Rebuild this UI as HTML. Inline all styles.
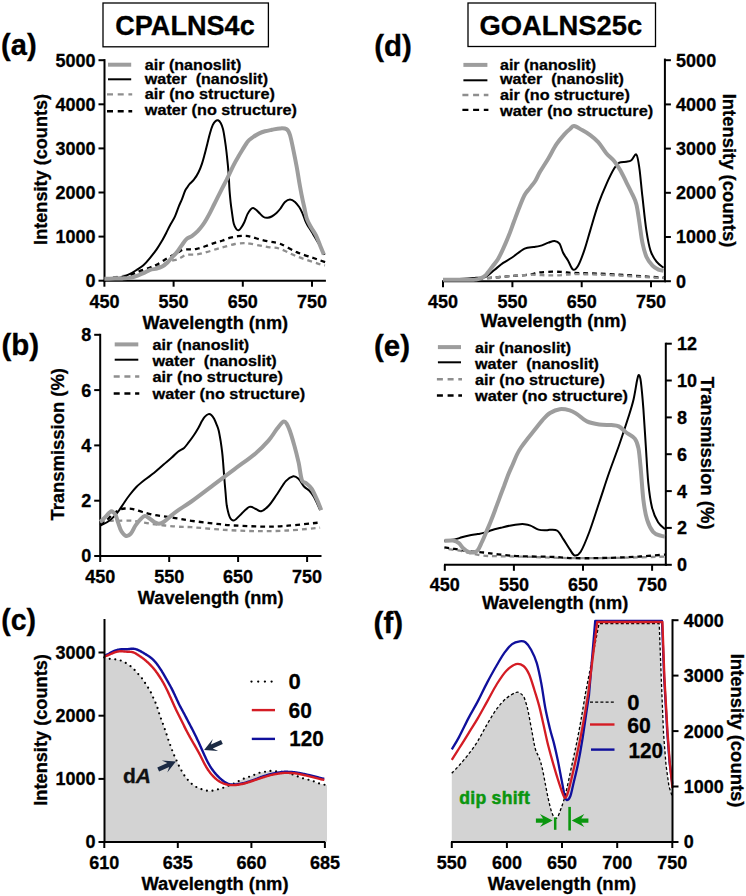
<!DOCTYPE html>
<html><head><meta charset="utf-8"><style>
html,body{margin:0;padding:0;background:#fff;}
svg{display:block;}
text{font-family:"Liberation Sans",sans-serif;}
</style></head><body>
<svg width="746" height="896" viewBox="0 0 746 896">
<rect width="746" height="896" fill="#fff"/>
<rect x="103" y="3" width="165.4" height="43.8" fill="none" stroke="#000" stroke-width="1.3"/>
<text x="185.0" y="34.5" font-family="Liberation Sans, sans-serif" font-weight="bold" font-size="27.0" fill="#000" stroke="#000" stroke-width="0.3" text-anchor="middle" textLength="139.5" lengthAdjust="spacingAndGlyphs" >CPALNS4c</text>
<rect x="468" y="3" width="187.5" height="43.5" fill="none" stroke="#000" stroke-width="1.3"/>
<text x="560.9" y="34.5" font-family="Liberation Sans, sans-serif" font-weight="bold" font-size="27.0" fill="#000" stroke="#000" stroke-width="0.3" text-anchor="middle" textLength="162.7" lengthAdjust="spacingAndGlyphs" >GOALNS25c</text>
<text x="1.0" y="55.3" font-family="Liberation Sans, sans-serif" font-weight="bold" font-size="29.0" fill="#000" stroke="#000" stroke-width="0.3" textLength="35.6" lengthAdjust="spacingAndGlyphs" >(a)</text>
<text x="1.4" y="354.5" font-family="Liberation Sans, sans-serif" font-weight="bold" font-size="29.0" fill="#000" stroke="#000" stroke-width="0.3" textLength="37.7" lengthAdjust="spacingAndGlyphs" >(b)</text>
<text x="1.3" y="629.6" font-family="Liberation Sans, sans-serif" font-weight="bold" font-size="29.0" fill="#000" stroke="#000" stroke-width="0.3" textLength="34.8" lengthAdjust="spacingAndGlyphs" >(c)</text>
<text x="374.3" y="55.8" font-family="Liberation Sans, sans-serif" font-weight="bold" font-size="29.0" fill="#000" stroke="#000" stroke-width="0.3" textLength="37.6" lengthAdjust="spacingAndGlyphs" >(d)</text>
<text x="374.0" y="355.5" font-family="Liberation Sans, sans-serif" font-weight="bold" font-size="29.0" fill="#000" stroke="#000" stroke-width="0.3" textLength="36.0" lengthAdjust="spacingAndGlyphs" >(e)</text>
<text x="373.6" y="633.0" font-family="Liberation Sans, sans-serif" font-weight="bold" font-size="29.5" fill="#000" stroke="#000" stroke-width="0.3" textLength="29.5" lengthAdjust="spacingAndGlyphs" >(f)</text>
<line x1="104.5" y1="281.7" x2="104.5" y2="59.1" stroke="#000" stroke-width="2.0" />
<line x1="103.5" y1="280.7" x2="325.9" y2="280.7" stroke="#000" stroke-width="2.0" />
<line x1="98.5" y1="280.7" x2="104.5" y2="280.7" stroke="#000" stroke-width="2.0" />
<text x="95.5" y="287.1" font-family="Liberation Sans, sans-serif" font-weight="bold" font-size="18.0" fill="#000" stroke="#000" stroke-width="0.3" text-anchor="end" >0</text>
<line x1="98.5" y1="236.6" x2="104.5" y2="236.6" stroke="#000" stroke-width="2.0" />
<text x="95.5" y="243.0" font-family="Liberation Sans, sans-serif" font-weight="bold" font-size="18.0" fill="#000" stroke="#000" stroke-width="0.3" text-anchor="end" >1000</text>
<line x1="98.5" y1="192.5" x2="104.5" y2="192.5" stroke="#000" stroke-width="2.0" />
<text x="95.5" y="198.9" font-family="Liberation Sans, sans-serif" font-weight="bold" font-size="18.0" fill="#000" stroke="#000" stroke-width="0.3" text-anchor="end" >2000</text>
<line x1="98.5" y1="148.4" x2="104.5" y2="148.4" stroke="#000" stroke-width="2.0" />
<text x="95.5" y="154.8" font-family="Liberation Sans, sans-serif" font-weight="bold" font-size="18.0" fill="#000" stroke="#000" stroke-width="0.3" text-anchor="end" >3000</text>
<line x1="98.5" y1="104.3" x2="104.5" y2="104.3" stroke="#000" stroke-width="2.0" />
<text x="95.5" y="110.7" font-family="Liberation Sans, sans-serif" font-weight="bold" font-size="18.0" fill="#000" stroke="#000" stroke-width="0.3" text-anchor="end" >4000</text>
<line x1="98.5" y1="60.2" x2="104.5" y2="60.2" stroke="#000" stroke-width="2.0" />
<text x="95.5" y="66.6" font-family="Liberation Sans, sans-serif" font-weight="bold" font-size="18.0" fill="#000" stroke="#000" stroke-width="0.3" text-anchor="end" >5000</text>
<line x1="104.4" y1="280.7" x2="104.4" y2="286.7" stroke="#000" stroke-width="2.0" />
<text x="104.4" y="307.5" font-family="Liberation Sans, sans-serif" font-weight="bold" font-size="18.0" fill="#000" stroke="#000" stroke-width="0.3" text-anchor="middle" >450</text>
<line x1="173.6" y1="280.7" x2="173.6" y2="286.7" stroke="#000" stroke-width="2.0" />
<text x="173.6" y="307.5" font-family="Liberation Sans, sans-serif" font-weight="bold" font-size="18.0" fill="#000" stroke="#000" stroke-width="0.3" text-anchor="middle" >550</text>
<line x1="242.8" y1="280.7" x2="242.8" y2="286.7" stroke="#000" stroke-width="2.0" />
<text x="242.8" y="307.5" font-family="Liberation Sans, sans-serif" font-weight="bold" font-size="18.0" fill="#000" stroke="#000" stroke-width="0.3" text-anchor="middle" >650</text>
<line x1="312.0" y1="280.7" x2="312.0" y2="286.7" stroke="#000" stroke-width="2.0" />
<text x="312.0" y="307.5" font-family="Liberation Sans, sans-serif" font-weight="bold" font-size="18.0" fill="#000" stroke="#000" stroke-width="0.3" text-anchor="middle" >750</text>
<text x="215.3" y="329.0" font-family="Liberation Sans, sans-serif" font-weight="bold" font-size="18.0" fill="#000" stroke="#000" stroke-width="0.3" text-anchor="middle" textLength="145.7" lengthAdjust="spacingAndGlyphs" >Wavelength (nm)</text>
<text x="47.2" y="169.4" font-family="Liberation Sans, sans-serif" font-weight="bold" font-size="18.0" fill="#000" stroke="#000" stroke-width="0.3" text-anchor="middle" textLength="151.0" lengthAdjust="spacingAndGlyphs" transform="rotate(-90 47.2 169.4)" >Intensity (counts)</text>
<line x1="108.0" y1="64.7" x2="131.2" y2="64.7" stroke="#9d9d9d" stroke-width="4.0" />
<line x1="108.0" y1="79.3" x2="131.2" y2="79.3" stroke="#000" stroke-width="2.0" />
<line x1="107.0" y1="94.4" x2="132.2" y2="94.4" stroke="#8e8e8e" stroke-width="2.4" stroke-dasharray="6,4.7"/>
<line x1="107.0" y1="111.2" x2="132.2" y2="111.2" stroke="#000" stroke-width="2.4" stroke-dasharray="6,4.7"/>
<text x="144.8" y="69.8" font-family="Liberation Sans, sans-serif" font-weight="bold" font-size="15.5" fill="#000" stroke="#000" stroke-width="0.3" textLength="96.5" lengthAdjust="spacingAndGlyphs" >air (nanoslit)</text>
<text x="144.8" y="84.3" font-family="Liberation Sans, sans-serif" font-weight="bold" font-size="15.5" fill="#000" stroke="#000" stroke-width="0.3" textLength="123.2" lengthAdjust="spacingAndGlyphs" >water&#160; (nanoslit)</text>
<text x="144.8" y="99.3" font-family="Liberation Sans, sans-serif" font-weight="bold" font-size="15.5" fill="#000" stroke="#000" stroke-width="0.3" textLength="130.1" lengthAdjust="spacingAndGlyphs" >air (no structure)</text>
<text x="144.8" y="114.8" font-family="Liberation Sans, sans-serif" font-weight="bold" font-size="15.5" fill="#000" stroke="#000" stroke-width="0.3" textLength="152.1" lengthAdjust="spacingAndGlyphs" >water (no structure)</text>
<path d="M104.4,278.8 C110.4,277.8 130.9,275.0 140.2,272.8 C149.5,270.6 155.3,267.4 160.3,265.5 C165.3,263.6 167.3,262.2 170.1,261.2 C172.9,260.2 175.1,260.1 176.9,259.5 C178.7,258.9 179.4,258.3 181.0,257.5 C182.6,256.7 184.0,255.3 186.7,254.8 C189.3,254.3 193.6,254.9 196.9,254.5 C200.2,254.1 203.1,253.1 206.3,252.2 C209.6,251.3 213.3,250.0 216.4,249.1 C219.5,248.2 221.9,247.5 225.0,246.7 C228.1,245.8 231.9,244.6 235.0,244.0 C238.1,243.4 241.3,243.2 243.8,243.1 C246.3,243.0 247.2,243.3 250.0,243.7 C252.8,244.1 257.0,245.0 260.3,245.6 C263.6,246.2 266.7,246.8 270.0,247.3 C273.3,247.8 275.6,247.3 280.0,248.8 C284.4,250.3 290.3,253.8 296.7,256.3 C303.1,258.8 313.8,262.3 318.5,263.8 C323.2,265.3 323.9,265.2 325.0,265.5" fill="none" stroke="#8e8e8e" stroke-width="2.3" stroke-linejoin="round" stroke-dasharray="4.8,4"/>
<path d="M104.4,278.4 C107.7,278.1 118.6,277.9 124.1,276.8 C129.6,275.7 133.1,273.4 137.4,271.9 C141.7,270.3 146.5,268.8 150.0,267.5 C153.5,266.2 155.4,265.4 158.2,263.9 C161.0,262.4 164.4,260.0 166.9,258.5 C169.4,257.0 171.2,256.0 173.0,255.0 C174.8,254.0 176.4,253.4 178.0,252.5 C179.6,251.6 181.1,250.3 182.8,249.8 C184.5,249.3 186.3,249.4 188.0,249.3 C189.7,249.2 191.3,249.6 193.0,249.5 C194.7,249.4 196.3,248.9 198.0,248.5 C199.7,248.1 201.5,247.6 203.1,247.1 C204.7,246.6 206.2,245.9 207.8,245.3 C209.4,244.7 210.9,244.2 212.5,243.6 C214.1,243.0 215.9,242.5 217.6,242.0 C219.3,241.5 220.6,241.2 222.7,240.5 C224.8,239.8 227.8,238.4 230.4,237.7 C233.0,237.0 235.4,236.5 238.0,236.2 C240.6,235.9 243.6,235.8 245.9,235.9 C248.2,236.0 249.6,236.4 252.0,237.0 C254.4,237.6 257.3,238.8 260.3,239.6 C263.3,240.4 266.7,241.0 270.0,241.7 C273.3,242.4 275.6,242.0 280.0,243.7 C284.4,245.4 291.1,249.7 296.7,252.1 C302.3,254.5 308.6,256.3 313.4,258.0 C318.1,259.7 323.2,261.4 325.2,262.1" fill="none" stroke="#000" stroke-width="2.3" stroke-linejoin="round" stroke-dasharray="4.8,4"/>
<path d="M104.4,278.4 C106.2,278.3 112.0,278.2 115.0,278.0 C118.0,277.8 119.6,277.9 122.1,277.2 C124.6,276.5 127.6,275.1 130.0,273.9 C132.4,272.7 134.5,271.3 136.7,269.9 C138.9,268.4 141.2,267.2 143.4,265.2 C145.6,263.2 147.9,260.5 150.1,257.8 C152.3,255.1 154.8,252.0 156.8,249.1 C158.8,246.2 160.6,243.1 162.2,240.4 C163.8,237.7 164.9,235.6 166.2,233.0 C167.5,230.4 168.7,227.8 170.2,225.0 C171.7,222.2 173.6,219.5 175.0,216.3 C176.4,213.2 177.7,209.0 178.9,206.1 C180.1,203.2 181.0,201.6 182.0,199.1 C183.0,196.6 184.1,193.0 185.0,191.0 C185.9,189.0 186.8,188.2 187.5,187.0 C188.2,185.8 188.4,185.3 189.5,184.1 C190.6,182.9 192.4,181.5 193.9,179.6 C195.4,177.7 197.1,175.2 198.4,172.5 C199.8,169.8 201.0,166.6 202.0,163.6 C203.0,160.6 203.7,157.9 204.6,154.6 C205.5,151.3 206.4,147.5 207.3,143.9 C208.2,140.3 209.1,136.3 210.0,133.2 C210.9,130.1 211.8,127.2 212.7,125.2 C213.6,123.2 214.5,122.0 215.4,121.2 C216.3,120.4 217.1,120.0 218.0,120.3 C218.9,120.6 219.9,121.6 220.7,123.0 C221.5,124.4 222.2,126.2 222.9,128.8 C223.6,131.4 224.1,134.7 224.7,138.6 C225.3,142.5 226.0,147.5 226.5,152.0 C227.0,156.5 227.5,161.2 227.9,165.4 C228.3,169.6 228.5,172.9 228.8,177.0 C229.1,181.1 229.2,185.8 229.5,190.0 C229.8,194.2 230.2,198.1 230.6,202.1 C231.0,206.1 231.7,210.5 232.2,214.1 C232.7,217.7 233.1,221.3 233.8,223.8 C234.5,226.3 235.5,227.9 236.3,229.0 C237.1,230.1 237.9,230.4 238.7,230.2 C239.5,230.0 240.2,229.1 241.1,227.8 C242.0,226.5 243.2,224.5 244.3,222.2 C245.4,219.9 246.4,216.2 247.5,214.1 C248.6,211.9 249.8,210.3 250.7,209.3 C251.6,208.3 252.2,208.0 253.2,208.1 C254.1,208.2 255.3,209.2 256.4,210.1 C257.5,211.0 258.4,212.2 259.6,213.3 C260.8,214.5 262.3,216.2 263.6,217.0 C264.9,217.8 266.2,217.9 267.6,217.8 C269.0,217.7 270.2,217.3 271.7,216.5 C273.2,215.7 275.0,214.2 276.5,212.9 C278.0,211.6 279.1,210.3 280.5,208.5 C281.9,206.7 283.4,203.4 285.0,201.9 C286.6,200.4 288.3,199.4 290.0,199.4 C291.7,199.4 293.5,200.6 295.0,201.9 C296.5,203.2 297.9,205.1 299.2,207.0 C300.5,208.9 301.6,211.4 302.6,213.6 C303.6,215.8 304.3,218.3 305.1,220.3 C305.9,222.3 306.5,223.5 307.6,225.4 C308.7,227.3 310.3,229.5 311.8,232.0 C313.3,234.5 315.4,237.9 316.8,240.4 C318.2,242.9 319.2,244.6 320.5,247.0 C321.8,249.4 323.9,253.4 324.6,254.7" fill="none" stroke="#000" stroke-width="2.0" stroke-linejoin="round" />
<path d="M104.4,278.8 C106.2,278.8 112.1,278.7 115.0,278.6 C117.9,278.5 119.5,278.5 122.0,278.4 C124.5,278.3 127.5,278.3 130.0,277.9 C132.4,277.5 134.5,276.7 136.7,275.9 C138.9,275.1 141.2,274.3 143.4,273.3 C145.6,272.3 147.9,270.7 150.1,269.9 C152.3,269.1 154.8,269.2 156.8,268.6 C158.8,268.1 160.4,267.6 162.2,266.6 C164.0,265.6 165.7,264.2 167.5,262.5 C169.3,260.8 171.3,258.2 172.9,256.5 C174.5,254.8 175.4,254.1 176.8,252.3 C178.2,250.5 179.7,248.1 181.3,245.9 C183.0,243.7 184.9,240.6 186.7,238.9 C188.5,237.2 190.4,237.1 192.2,235.8 C194.0,234.5 196.0,232.8 197.7,231.1 C199.4,229.4 200.9,227.5 202.3,225.6 C203.7,223.7 205.0,221.6 206.3,219.4 C207.6,217.2 208.9,214.8 210.2,212.3 C211.5,209.8 212.8,207.1 214.1,204.5 C215.4,201.9 216.7,199.3 218.0,196.7 C219.3,194.1 220.5,191.7 221.9,188.9 C223.3,186.1 224.8,183.4 226.7,179.7 C228.5,175.9 231.2,170.1 233.0,166.4 C234.8,162.8 236.1,160.5 237.7,157.8 C239.2,155.1 240.6,152.7 242.3,150.0 C244.0,147.3 246.1,143.5 247.8,141.4 C249.5,139.3 250.7,138.8 252.5,137.5 C254.3,136.2 256.7,134.6 258.8,133.6 C260.9,132.6 262.8,131.9 265.0,131.3 C267.2,130.7 269.5,130.3 272.0,129.8 C274.5,129.3 277.6,128.5 280.0,128.4 C282.4,128.3 285.0,128.1 286.7,129.2 C288.4,130.3 288.9,131.5 290.0,135.0 C291.1,138.5 292.3,144.8 293.4,150.1 C294.5,155.4 295.7,161.5 296.7,166.8 C297.7,172.1 298.4,177.2 299.2,181.9 C300.0,186.7 300.9,191.1 301.7,195.3 C302.5,199.5 303.3,203.1 304.2,207.0 C305.1,210.9 305.7,215.4 306.8,218.7 C307.9,222.0 309.4,224.2 310.9,227.0 C312.4,229.8 314.5,232.3 316.0,235.4 C317.5,238.5 318.8,242.2 320.1,245.4 C321.4,248.6 323.2,253.1 323.8,254.6" fill="none" stroke="#9d9d9d" stroke-width="4.0" stroke-linejoin="round" />
<line x1="100.2" y1="557.0" x2="100.2" y2="333.8" stroke="#000" stroke-width="2.0" />
<line x1="99.2" y1="556.0" x2="321.5" y2="556.0" stroke="#000" stroke-width="2.0" />
<line x1="94.2" y1="556.0" x2="100.2" y2="556.0" stroke="#000" stroke-width="2.0" />
<text x="91.2" y="562.4" font-family="Liberation Sans, sans-serif" font-weight="bold" font-size="18.0" fill="#000" stroke="#000" stroke-width="0.3" text-anchor="end" >0</text>
<line x1="94.2" y1="500.7" x2="100.2" y2="500.7" stroke="#000" stroke-width="2.0" />
<text x="91.2" y="507.1" font-family="Liberation Sans, sans-serif" font-weight="bold" font-size="18.0" fill="#000" stroke="#000" stroke-width="0.3" text-anchor="end" >2</text>
<line x1="94.2" y1="445.4" x2="100.2" y2="445.4" stroke="#000" stroke-width="2.0" />
<text x="91.2" y="451.8" font-family="Liberation Sans, sans-serif" font-weight="bold" font-size="18.0" fill="#000" stroke="#000" stroke-width="0.3" text-anchor="end" >4</text>
<line x1="94.2" y1="390.1" x2="100.2" y2="390.1" stroke="#000" stroke-width="2.0" />
<text x="91.2" y="396.5" font-family="Liberation Sans, sans-serif" font-weight="bold" font-size="18.0" fill="#000" stroke="#000" stroke-width="0.3" text-anchor="end" >6</text>
<line x1="94.2" y1="334.8" x2="100.2" y2="334.8" stroke="#000" stroke-width="2.0" />
<text x="91.2" y="341.2" font-family="Liberation Sans, sans-serif" font-weight="bold" font-size="18.0" fill="#000" stroke="#000" stroke-width="0.3" text-anchor="end" >8</text>
<line x1="100.2" y1="556.0" x2="100.2" y2="562.0" stroke="#000" stroke-width="2.0" />
<text x="100.2" y="582.8" font-family="Liberation Sans, sans-serif" font-weight="bold" font-size="18.0" fill="#000" stroke="#000" stroke-width="0.3" text-anchor="middle" >450</text>
<line x1="169.2" y1="556.0" x2="169.2" y2="562.0" stroke="#000" stroke-width="2.0" />
<text x="169.2" y="582.8" font-family="Liberation Sans, sans-serif" font-weight="bold" font-size="18.0" fill="#000" stroke="#000" stroke-width="0.3" text-anchor="middle" >550</text>
<line x1="238.1" y1="556.0" x2="238.1" y2="562.0" stroke="#000" stroke-width="2.0" />
<text x="238.1" y="582.8" font-family="Liberation Sans, sans-serif" font-weight="bold" font-size="18.0" fill="#000" stroke="#000" stroke-width="0.3" text-anchor="middle" >650</text>
<line x1="307.1" y1="556.0" x2="307.1" y2="562.0" stroke="#000" stroke-width="2.0" />
<text x="307.1" y="582.8" font-family="Liberation Sans, sans-serif" font-weight="bold" font-size="18.0" fill="#000" stroke="#000" stroke-width="0.3" text-anchor="middle" >750</text>
<text x="210.7" y="604.0" font-family="Liberation Sans, sans-serif" font-weight="bold" font-size="18.0" fill="#000" stroke="#000" stroke-width="0.3" text-anchor="middle" textLength="145.7" lengthAdjust="spacingAndGlyphs" >Wavelength (nm)</text>
<text x="64.5" y="444.3" font-family="Liberation Sans, sans-serif" font-weight="bold" font-size="18.0" fill="#000" stroke="#000" stroke-width="0.3" text-anchor="middle" textLength="152.5" lengthAdjust="spacingAndGlyphs" transform="rotate(-90 64.5 444.3)" >Transmission (%)</text>
<line x1="114.7" y1="344.4" x2="138.3" y2="344.4" stroke="#9d9d9d" stroke-width="4.0" />
<line x1="114.7" y1="359.7" x2="138.3" y2="359.7" stroke="#000" stroke-width="2.0" />
<line x1="113.7" y1="376.5" x2="139.3" y2="376.5" stroke="#8e8e8e" stroke-width="2.4" stroke-dasharray="6,4.7"/>
<line x1="113.7" y1="393.5" x2="139.3" y2="393.5" stroke="#000" stroke-width="2.4" stroke-dasharray="6,4.7"/>
<text x="152.5" y="350.2" font-family="Liberation Sans, sans-serif" font-weight="bold" font-size="15.5" fill="#000" stroke="#000" stroke-width="0.3" textLength="96.7" lengthAdjust="spacingAndGlyphs" >air (nanoslit)</text>
<text x="152.5" y="365.8" font-family="Liberation Sans, sans-serif" font-weight="bold" font-size="15.5" fill="#000" stroke="#000" stroke-width="0.3" textLength="124.2" lengthAdjust="spacingAndGlyphs" >water&#160; (nanoslit)</text>
<text x="152.5" y="381.9" font-family="Liberation Sans, sans-serif" font-weight="bold" font-size="15.5" fill="#000" stroke="#000" stroke-width="0.3" textLength="130.5" lengthAdjust="spacingAndGlyphs" >air (no structure)</text>
<text x="152.5" y="398.6" font-family="Liberation Sans, sans-serif" font-weight="bold" font-size="15.5" fill="#000" stroke="#000" stroke-width="0.3" textLength="152.8" lengthAdjust="spacingAndGlyphs" >water (no structure)</text>
<path d="M100.2,522.0 C102.0,521.8 108.3,521.0 111.3,520.8 C114.2,520.6 114.3,520.8 117.9,520.8 C121.5,520.8 127.6,520.3 133.1,520.8 C138.6,521.3 145.4,522.9 150.7,523.7 C156.0,524.5 160.4,525.0 165.0,525.5 C169.6,526.0 173.6,526.4 178.0,526.7 C182.4,527.0 183.8,526.7 191.4,527.2 C199.0,527.7 212.9,529.1 223.6,529.8 C234.3,530.4 245.1,531.0 255.8,531.1 C266.5,531.2 277.3,531.1 288.0,530.5 C298.7,529.9 314.8,528.2 320.1,527.7" fill="none" stroke="#8e8e8e" stroke-width="2.3" stroke-linejoin="round" stroke-dasharray="4.8,4"/>
<path d="M100.2,525.0 C101.5,524.0 106.0,520.8 108.0,519.0 C110.0,517.2 111.0,515.2 112.5,514.0 C114.0,512.8 115.4,512.3 116.7,511.5 C118.0,510.7 119.1,509.8 120.5,509.3 C121.9,508.8 122.8,508.5 124.9,508.5 C127.0,508.5 130.2,508.5 133.1,509.1 C136.0,509.7 139.0,511.0 142.5,512.0 C146.0,513.0 150.3,514.2 154.2,515.0 C158.1,515.8 161.9,516.1 165.9,516.7 C169.9,517.3 173.8,517.8 178.0,518.5 C182.2,519.2 185.6,520.0 191.4,520.8 C197.2,521.6 205.8,522.6 212.9,523.4 C220.1,524.2 225.4,525.0 234.3,525.5 C243.2,526.0 257.6,526.6 266.5,526.6 C275.4,526.6 279.1,526.4 288.0,525.7 C296.9,525.0 314.8,523.0 320.1,522.5" fill="none" stroke="#000" stroke-width="2.3" stroke-linejoin="round" stroke-dasharray="4.8,4"/>
<path d="M100.3,525.5 C101.5,524.9 105.1,523.6 107.4,522.0 C109.8,520.4 112.5,518.1 114.4,516.1 C116.4,514.1 117.5,512.5 119.1,510.3 C120.7,508.1 122.0,505.8 123.8,503.2 C125.5,500.6 127.5,497.7 129.6,495.0 C131.7,492.3 134.1,489.3 136.6,486.8 C139.1,484.3 141.9,482.1 144.8,479.8 C147.7,477.5 151.1,475.3 154.2,472.8 C157.3,470.3 160.7,467.1 163.6,464.6 C166.5,462.1 169.4,459.8 171.8,457.6 C174.2,455.5 175.9,453.3 178.0,451.7 C180.1,450.1 182.3,449.5 184.1,447.9 C185.9,446.3 187.2,444.2 188.8,442.2 C190.4,440.2 191.9,438.0 193.5,435.7 C195.1,433.4 196.8,430.6 198.2,428.2 C199.6,425.8 200.8,423.0 201.9,421.1 C203.0,419.2 203.6,418.1 204.7,416.9 C205.8,415.7 207.4,414.4 208.5,414.1 C209.6,413.8 210.4,414.2 211.3,415.0 C212.2,415.8 213.2,417.1 214.1,418.8 C215.0,420.5 216.1,423.3 216.9,425.3 C217.7,427.3 218.2,428.3 218.8,431.0 C219.4,433.7 220.1,437.9 220.7,441.3 C221.2,444.7 221.7,448.3 222.1,451.6 C222.5,454.9 222.7,457.2 223.0,461.0 C223.3,464.8 223.6,468.9 224.0,474.1 C224.4,479.3 225.0,486.7 225.5,492.0 C226.0,497.3 226.1,501.5 226.8,505.8 C227.6,510.1 228.8,515.2 230.0,517.6 C231.2,520.0 232.5,520.9 234.3,520.4 C236.1,519.9 238.3,516.6 240.8,514.4 C243.3,512.1 246.9,507.8 249.4,506.9 C251.9,506.0 253.8,508.3 255.8,509.0 C257.8,509.7 259.1,511.7 261.2,511.2 C263.3,510.7 266.0,508.7 268.7,505.8 C271.4,502.9 274.3,498.1 277.2,494.0 C280.1,489.9 283.1,484.1 285.8,481.1 C288.5,478.1 291.2,476.6 293.3,476.2 C295.4,475.8 296.9,477.3 298.7,479.0 C300.5,480.7 302.2,484.5 304.0,486.5 C305.8,488.5 307.7,489.1 309.4,490.8 C311.1,492.6 312.2,493.8 314.0,497.0 C315.8,500.2 319.1,507.8 320.1,510.0" fill="none" stroke="#000" stroke-width="2.0" stroke-linejoin="round" />
<path d="M100.3,522.0 C101.3,521.0 104.7,517.7 106.2,516.1 C107.7,514.5 108.5,513.3 109.5,512.5 C110.5,511.7 111.1,511.0 112.1,511.4 C113.1,511.8 114.6,513.2 115.6,515.0 C116.6,516.8 116.9,519.3 117.9,522.0 C118.9,524.7 120.0,529.0 121.4,531.3 C122.8,533.6 124.5,535.6 126.1,536.0 C127.7,536.4 129.2,535.5 130.8,533.7 C132.4,532.0 133.9,527.9 135.5,525.5 C137.1,523.1 138.6,521.2 140.2,519.6 C141.8,518.0 143.2,516.3 144.8,516.1 C146.4,515.9 147.9,517.5 149.5,518.5 C151.1,519.5 152.6,521.1 154.2,522.0 C155.8,522.9 157.3,523.7 158.9,523.7 C160.5,523.7 161.7,523.3 163.6,522.0 C165.5,520.7 168.2,518.1 170.6,516.1 C173.0,514.1 174.5,512.7 178.0,510.3 C181.5,507.9 185.6,505.6 191.4,501.5 C197.2,497.4 205.8,490.8 212.9,485.4 C220.1,480.0 227.2,474.7 234.3,469.3 C241.5,463.9 250.1,458.0 255.8,453.2 C261.5,448.4 265.1,444.5 268.7,440.4 C272.3,436.3 274.6,431.8 277.2,428.6 C279.8,425.5 282.0,421.5 284.0,421.5 C286.0,421.5 287.3,424.6 289.0,428.6 C290.7,432.6 292.8,440.0 294.4,445.7 C296.0,451.4 297.4,457.2 298.7,462.9 C299.9,468.6 300.6,476.7 301.9,480.1 C303.1,483.5 304.6,481.9 306.2,483.3 C307.8,484.7 309.8,485.9 311.6,488.6 C313.4,491.3 315.3,495.8 316.9,499.4 C318.5,503.0 320.5,508.3 321.2,510.1" fill="none" stroke="#9d9d9d" stroke-width="4.0" stroke-linejoin="round" />
<path d="M104.3,657.4 C105.2,657.6 107.7,658.5 109.4,658.8 C111.1,659.1 112.9,659.0 114.7,659.2 C116.5,659.5 118.3,659.7 120.1,660.3 C121.9,660.9 123.5,661.6 125.5,662.8 C127.5,664.0 130.4,666.0 132.2,667.5 C134.0,669.0 134.8,670.2 136.2,671.8 C137.6,673.4 139.6,675.3 140.9,676.9 C142.2,678.5 143.1,679.9 144.2,681.6 C145.3,683.3 146.6,685.3 147.6,686.9 C148.6,688.5 149.4,689.5 150.3,691.2 C151.2,692.9 152.0,695.0 152.9,697.0 C153.8,699.0 154.8,701.0 155.6,703.0 C156.4,705.0 157.2,707.0 157.9,709.0 C158.6,711.0 159.0,713.0 159.7,715.0 C160.4,717.0 161.1,719.0 161.9,721.1 C162.7,723.2 163.6,725.7 164.3,727.8 C165.1,729.9 165.7,731.8 166.4,733.8 C167.1,735.8 167.7,737.9 168.4,740.0 C169.1,742.1 169.9,744.1 170.7,746.2 C171.5,748.3 172.2,750.5 173.0,752.6 C173.8,754.7 174.7,756.4 175.7,758.6 C176.7,760.8 178.0,764.0 179.0,766.0 C180.0,768.0 180.6,769.1 181.6,770.8 C182.6,772.5 183.6,774.4 184.8,776.1 C186.1,777.9 187.6,779.7 189.1,781.3 C190.6,782.9 192.2,784.4 193.9,785.6 C195.6,786.8 197.4,787.5 199.3,788.3 C201.2,789.1 203.4,790.0 205.5,790.4 C207.6,790.8 209.7,791.0 211.8,790.8 C213.9,790.6 216.1,789.8 218.1,789.3 C220.1,788.8 221.9,788.2 224.0,787.5 C226.1,786.8 228.3,785.8 230.4,784.9 C232.5,784.0 234.4,783.2 236.3,782.3 C238.2,781.4 240.1,780.4 242.0,779.5 C243.9,778.6 245.9,777.9 247.8,777.2 C249.7,776.5 251.4,776.0 253.2,775.3 C255.0,774.6 256.8,773.6 258.6,773.0 C260.5,772.4 262.5,772.2 264.3,771.9 C266.1,771.5 267.4,771.0 269.3,770.9 C271.2,770.8 273.5,771.1 275.5,771.3 C277.5,771.5 279.4,771.7 281.4,771.9 C283.4,772.1 285.5,772.2 287.5,772.7 C289.5,773.2 291.4,774.1 293.4,774.8 C295.4,775.5 297.3,776.3 299.3,777.0 C301.3,777.7 303.4,778.5 305.5,779.1 C307.6,779.7 309.7,779.9 311.7,780.5 C313.7,781.1 315.3,782.2 317.3,782.9 C319.3,783.6 321.9,784.1 323.5,784.5 C325.1,784.9 326.4,785.2 327.0,785.3 L327,841.8 L104.5,841.8 Z" fill="#d3d3d3" stroke="none"/>
<path d="M104.3,657.4 C105.2,657.6 107.7,658.5 109.4,658.8 C111.1,659.1 112.9,659.0 114.7,659.2 C116.5,659.5 118.3,659.7 120.1,660.3 C121.9,660.9 123.5,661.6 125.5,662.8 C127.5,664.0 130.4,666.0 132.2,667.5 C134.0,669.0 134.8,670.2 136.2,671.8 C137.6,673.4 139.6,675.3 140.9,676.9 C142.2,678.5 143.1,679.9 144.2,681.6 C145.3,683.3 146.6,685.3 147.6,686.9 C148.6,688.5 149.4,689.5 150.3,691.2 C151.2,692.9 152.0,695.0 152.9,697.0 C153.8,699.0 154.8,701.0 155.6,703.0 C156.4,705.0 157.2,707.0 157.9,709.0 C158.6,711.0 159.0,713.0 159.7,715.0 C160.4,717.0 161.1,719.0 161.9,721.1 C162.7,723.2 163.6,725.7 164.3,727.8 C165.1,729.9 165.7,731.8 166.4,733.8 C167.1,735.8 167.7,737.9 168.4,740.0 C169.1,742.1 169.9,744.1 170.7,746.2 C171.5,748.3 172.2,750.5 173.0,752.6 C173.8,754.7 174.7,756.4 175.7,758.6 C176.7,760.8 178.0,764.0 179.0,766.0 C180.0,768.0 180.6,769.1 181.6,770.8 C182.6,772.5 183.6,774.4 184.8,776.1 C186.1,777.9 187.6,779.7 189.1,781.3 C190.6,782.9 192.2,784.4 193.9,785.6 C195.6,786.8 197.4,787.5 199.3,788.3 C201.2,789.1 203.4,790.0 205.5,790.4 C207.6,790.8 209.7,791.0 211.8,790.8 C213.9,790.6 216.1,789.8 218.1,789.3 C220.1,788.8 221.9,788.2 224.0,787.5 C226.1,786.8 228.3,785.8 230.4,784.9 C232.5,784.0 234.4,783.2 236.3,782.3 C238.2,781.4 240.1,780.4 242.0,779.5 C243.9,778.6 245.9,777.9 247.8,777.2 C249.7,776.5 251.4,776.0 253.2,775.3 C255.0,774.6 256.8,773.6 258.6,773.0 C260.5,772.4 262.5,772.2 264.3,771.9 C266.1,771.5 267.4,771.0 269.3,770.9 C271.2,770.8 273.5,771.1 275.5,771.3 C277.5,771.5 279.4,771.7 281.4,771.9 C283.4,772.1 285.5,772.2 287.5,772.7 C289.5,773.2 291.4,774.1 293.4,774.8 C295.4,775.5 297.3,776.3 299.3,777.0 C301.3,777.7 303.4,778.5 305.5,779.1 C307.6,779.7 309.7,779.9 311.7,780.5 C313.7,781.1 315.3,782.2 317.3,782.9 C319.3,783.6 321.9,784.1 323.5,784.5 C325.1,784.9 326.4,785.2 327.0,785.3" fill="none" stroke="#000" stroke-width="2.2" stroke-linejoin="round" stroke-dasharray="0,5.6" stroke-linecap="round"/>
<path d="M104.30,655.64 L104.80,655.50 L105.30,655.33 L105.80,655.14 L106.30,654.93 L106.80,654.70 L107.30,654.47 L107.80,654.22 L108.30,653.96 L108.80,653.70 L109.30,653.44 L109.80,653.17 L110.30,652.90 L110.80,652.64 L111.30,652.37 L111.80,652.11 L112.30,651.85 L112.80,651.61 L113.30,651.36 L113.80,651.13 L114.30,650.92 L114.80,650.71 L115.30,650.52 L115.80,650.34 L116.30,650.18 L116.80,650.03 L117.30,649.89 L117.80,649.77 L118.30,649.66 L118.80,649.56 L119.30,649.47 L119.80,649.40 L120.30,649.35 L120.80,649.30 L121.30,649.28 L121.80,649.26 L122.30,649.25 L122.80,649.25 L123.30,649.25 L123.80,649.26 L124.30,649.27 L124.80,649.27 L125.30,649.27 L125.80,649.26 L126.30,649.24 L126.80,649.22 L127.30,649.18 L127.80,649.14 L128.30,649.09 L128.80,649.03 L129.30,648.97 L129.80,648.91 L130.30,648.85 L130.80,648.79 L131.30,648.75 L131.80,648.71 L132.30,648.70 L132.80,648.70 L133.30,648.72 L133.80,648.77 L134.30,648.83 L134.80,648.93 L135.30,649.04 L135.80,649.17 L136.30,649.32 L136.80,649.49 L137.30,649.67 L137.80,649.87 L138.30,650.08 L138.80,650.31 L139.30,650.55 L139.80,650.80 L140.30,651.07 L140.80,651.35 L141.30,651.64 L141.80,651.93 L142.30,652.23 L142.80,652.53 L143.30,652.83 L143.80,653.14 L144.30,653.44 L144.80,653.74 L145.30,654.05 L145.80,654.35 L146.30,654.65 L146.80,654.96 L147.30,655.27 L147.80,655.58 L148.30,655.90 L148.80,656.22 L149.30,656.56 L149.80,656.92 L150.30,657.29 L150.80,657.67 L151.30,658.08 L151.80,658.51 L152.30,658.95 L152.80,659.42 L153.30,659.90 L153.80,660.40 L154.30,660.92 L154.80,661.46 L155.30,662.03 L155.80,662.61 L156.30,663.22 L156.80,663.85 L157.30,664.51 L157.80,665.18 L158.30,665.88 L158.80,666.59 L159.30,667.33 L159.80,668.08 L160.30,668.84 L160.80,669.62 L161.30,670.41 L161.80,671.22 L162.30,672.04 L162.80,672.88 L163.30,673.72 L163.80,674.58 L164.30,675.44 L164.80,676.31 L165.30,677.19 L165.80,678.07 L166.30,678.94 L166.80,679.82 L167.30,680.70 L167.80,681.58 L168.30,682.46 L168.80,683.35 L169.30,684.24 L169.80,685.13 L170.30,686.04 L170.80,686.97 L171.30,687.91 L171.80,688.87 L172.30,689.85 L172.80,690.86 L173.30,691.89 L173.80,692.94 L174.30,694.00 L174.80,695.08 L175.30,696.17 L175.80,697.27 L176.30,698.36 L176.80,699.45 L177.30,700.53 L177.80,701.59 L178.30,702.64 L178.80,703.67 L179.30,704.68 L179.80,705.67 L180.30,706.64 L180.80,707.59 L181.30,708.52 L181.80,709.44 L182.30,710.36 L182.80,711.28 L183.30,712.20 L183.80,713.12 L184.30,714.06 L184.80,715.00 L185.30,715.95 L185.80,716.91 L186.30,717.87 L186.80,718.83 L187.30,719.79 L187.80,720.75 L188.30,721.70 L188.80,722.65 L189.30,723.60 L189.80,724.54 L190.30,725.49 L190.80,726.44 L191.30,727.39 L191.80,728.35 L192.30,729.32 L192.80,730.29 L193.30,731.27 L193.80,732.25 L194.30,733.25 L194.80,734.25 L195.30,735.27 L195.80,736.29 L196.30,737.32 L196.80,738.36 L197.30,739.41 L197.80,740.47 L198.30,741.54 L198.80,742.62 L199.30,743.71 L199.80,744.81 L200.30,745.92 L200.80,747.04 L201.30,748.17 L201.80,749.30 L202.30,750.43 L202.80,751.57 L203.30,752.70 L203.80,753.82 L204.30,754.94 L204.80,756.04 L205.30,757.12 L205.80,758.19 L206.30,759.23 L206.80,760.25 L207.30,761.24 L207.80,762.20 L208.30,763.14 L208.80,764.04 L209.30,764.91 L209.80,765.75 L210.30,766.56 L210.80,767.34 L211.30,768.09 L211.80,768.82 L212.30,769.53 L212.80,770.21 L213.30,770.87 L213.80,771.52 L214.30,772.15 L214.80,772.76 L215.30,773.36 L215.80,773.95 L216.30,774.52 L216.80,775.07 L217.30,775.61 L217.80,776.13 L218.30,776.64 L218.80,777.13 L219.30,777.61 L219.80,778.07 L220.30,778.52 L220.80,778.96 L221.30,779.39 L221.80,779.80 L222.30,780.20 L222.80,780.58 L223.30,780.95 L223.80,781.31 L224.30,781.65 L224.80,781.97 L225.30,782.29 L225.80,782.58 L226.30,782.86 L226.80,783.12 L227.30,783.37 L227.80,783.59 L228.30,783.78 L228.80,783.96 L229.30,784.11 L229.80,784.24 L230.30,784.35 L230.80,784.44 L231.30,784.51 L231.80,784.56 L232.30,784.60 L232.80,784.63 L233.30,784.64 L233.80,784.63 L234.30,784.61 L234.80,784.58 L235.30,784.53 L235.80,784.48 L236.30,784.41 L236.80,784.34 L237.30,784.27 L237.80,784.19 L238.30,784.11 L238.80,784.02 L239.30,783.94 L239.80,783.85 L240.30,783.77 L240.80,783.68 L241.30,783.59 L241.80,783.50 L242.30,783.40 L242.80,783.30 L243.30,783.19 L243.80,783.08 L244.30,782.96 L244.80,782.83 L245.30,782.69 L245.80,782.55 L246.30,782.40 L246.80,782.24 L247.30,782.09 L247.80,781.93 L248.30,781.76 L248.80,781.60 L249.30,781.43 L249.80,781.27 L250.30,781.10 L250.80,780.93 L251.30,780.76 L251.80,780.59 L252.30,780.42 L252.80,780.25 L253.30,780.08 L253.80,779.90 L254.30,779.72 L254.80,779.53 L255.30,779.34 L255.80,779.15 L256.30,778.95 L256.80,778.75 L257.30,778.55 L257.80,778.34 L258.30,778.14 L258.80,777.94 L259.30,777.74 L259.80,777.54 L260.30,777.35 L260.80,777.17 L261.30,776.99 L261.80,776.81 L262.30,776.64 L262.80,776.48 L263.30,776.31 L263.80,776.15 L264.30,775.99 L264.80,775.84 L265.30,775.68 L265.80,775.53 L266.30,775.37 L266.80,775.22 L267.30,775.07 L267.80,774.92 L268.30,774.77 L268.80,774.62 L269.30,774.47 L269.80,774.33 L270.30,774.20 L270.80,774.07 L271.30,773.94 L271.80,773.83 L272.30,773.71 L272.80,773.61 L273.30,773.51 L273.80,773.41 L274.30,773.32 L274.80,773.23 L275.30,773.14 L275.80,773.05 L276.30,772.97 L276.80,772.88 L277.30,772.79 L277.80,772.71 L278.30,772.62 L278.80,772.54 L279.30,772.45 L279.80,772.37 L280.30,772.29 L280.80,772.21 L281.30,772.13 L281.80,772.06 L282.30,771.99 L282.80,771.93 L283.30,771.87 L283.80,771.83 L284.30,771.80 L284.80,771.77 L285.30,771.76 L285.80,771.76 L286.30,771.76 L286.80,771.77 L287.30,771.79 L287.80,771.81 L288.30,771.83 L288.80,771.86 L289.30,771.88 L289.80,771.91 L290.30,771.94 L290.80,771.97 L291.30,772.00 L291.80,772.03 L292.30,772.06 L292.80,772.10 L293.30,772.14 L293.80,772.19 L294.30,772.24 L294.80,772.30 L295.30,772.36 L295.80,772.43 L296.30,772.50 L296.80,772.58 L297.30,772.67 L297.80,772.76 L298.30,772.85 L298.80,772.94 L299.30,773.04 L299.80,773.13 L300.30,773.23 L300.80,773.33 L301.30,773.43 L301.80,773.52 L302.30,773.62 L302.80,773.72 L303.30,773.82 L303.80,773.92 L304.30,774.02 L304.80,774.13 L305.30,774.23 L305.80,774.34 L306.30,774.45 L306.80,774.57 L307.30,774.68 L307.80,774.80 L308.30,774.91 L308.80,775.03 L309.30,775.15 L309.80,775.27 L310.30,775.39 L310.80,775.52 L311.30,775.64 L311.80,775.76 L312.30,775.88 L312.80,776.00 L313.30,776.12 L313.80,776.25 L314.30,776.37 L314.80,776.50 L315.30,776.62 L315.80,776.75 L316.30,776.88 L316.80,777.01 L317.30,777.14 L317.80,777.27 L318.30,777.40 L318.80,777.54 L319.30,777.67 L319.80,777.81 L320.30,777.94 L320.80,778.07 L321.30,778.20 L321.80,778.32 L322.30,778.44 L322.80,778.55 L323.30,778.64 L323.80,778.73 L324.30,778.81" fill="none" stroke="#10109c" stroke-width="2.4" stroke-linejoin="round" />
<path d="M104.30,656.44 L104.80,656.33 L105.30,656.20 L105.80,656.05 L106.30,655.88 L106.80,655.71 L107.30,655.52 L107.80,655.32 L108.30,655.11 L108.80,654.89 L109.30,654.67 L109.80,654.45 L110.30,654.22 L110.80,653.99 L111.30,653.77 L111.80,653.54 L112.30,653.31 L112.80,653.09 L113.30,652.88 L113.80,652.68 L114.30,652.49 L114.80,652.32 L115.30,652.15 L115.80,652.00 L116.30,651.87 L116.80,651.75 L117.30,651.64 L117.80,651.54 L118.30,651.46 L118.80,651.39 L119.30,651.34 L119.80,651.30 L120.30,651.28 L120.80,651.27 L121.30,651.27 L121.80,651.29 L122.30,651.32 L122.80,651.36 L123.30,651.40 L123.80,651.44 L124.30,651.49 L124.80,651.54 L125.30,651.58 L125.80,651.63 L126.30,651.66 L126.80,651.70 L127.30,651.72 L127.80,651.75 L128.30,651.77 L128.80,651.78 L129.30,651.80 L129.80,651.82 L130.30,651.84 L130.80,651.88 L131.30,651.93 L131.80,652.00 L132.30,652.09 L132.80,652.21 L133.30,652.36 L133.80,652.54 L134.30,652.76 L134.80,653.00 L135.30,653.27 L135.80,653.56 L136.30,653.87 L136.80,654.18 L137.30,654.51 L137.80,654.83 L138.30,655.16 L138.80,655.49 L139.30,655.82 L139.80,656.15 L140.30,656.48 L140.80,656.82 L141.30,657.16 L141.80,657.51 L142.30,657.87 L142.80,658.24 L143.30,658.61 L143.80,659.00 L144.30,659.41 L144.80,659.82 L145.30,660.24 L145.80,660.67 L146.30,661.10 L146.80,661.55 L147.30,662.00 L147.80,662.46 L148.30,662.93 L148.80,663.41 L149.30,663.89 L149.80,664.39 L150.30,664.89 L150.80,665.40 L151.30,665.92 L151.80,666.46 L152.30,667.00 L152.80,667.56 L153.30,668.14 L153.80,668.73 L154.30,669.34 L154.80,669.96 L155.30,670.60 L155.80,671.25 L156.30,671.92 L156.80,672.60 L157.30,673.29 L157.80,674.00 L158.30,674.72 L158.80,675.46 L159.30,676.21 L159.80,676.97 L160.30,677.75 L160.80,678.55 L161.30,679.36 L161.80,680.19 L162.30,681.03 L162.80,681.89 L163.30,682.77 L163.80,683.67 L164.30,684.59 L164.80,685.54 L165.30,686.50 L165.80,687.49 L166.30,688.49 L166.80,689.51 L167.30,690.54 L167.80,691.59 L168.30,692.64 L168.80,693.71 L169.30,694.79 L169.80,695.88 L170.30,696.97 L170.80,698.07 L171.30,699.19 L171.80,700.30 L172.30,701.42 L172.80,702.54 L173.30,703.66 L173.80,704.78 L174.30,705.89 L174.80,706.99 L175.30,708.08 L175.80,709.15 L176.30,710.21 L176.80,711.25 L177.30,712.27 L177.80,713.28 L178.30,714.28 L178.80,715.27 L179.30,716.25 L179.80,717.24 L180.30,718.23 L180.80,719.23 L181.30,720.23 L181.80,721.25 L182.30,722.26 L182.80,723.29 L183.30,724.31 L183.80,725.33 L184.30,726.35 L184.80,727.36 L185.30,728.36 L185.80,729.35 L186.30,730.33 L186.80,731.29 L187.30,732.24 L187.80,733.18 L188.30,734.11 L188.80,735.03 L189.30,735.94 L189.80,736.85 L190.30,737.74 L190.80,738.63 L191.30,739.52 L191.80,740.39 L192.30,741.27 L192.80,742.13 L193.30,743.00 L193.80,743.86 L194.30,744.72 L194.80,745.58 L195.30,746.45 L195.80,747.31 L196.30,748.17 L196.80,749.05 L197.30,749.93 L197.80,750.82 L198.30,751.72 L198.80,752.64 L199.30,753.57 L199.80,754.53 L200.30,755.49 L200.80,756.48 L201.30,757.47 L201.80,758.47 L202.30,759.47 L202.80,760.48 L203.30,761.47 L203.80,762.46 L204.30,763.43 L204.80,764.38 L205.30,765.30 L205.80,766.20 L206.30,767.07 L206.80,767.91 L207.30,768.71 L207.80,769.48 L208.30,770.22 L208.80,770.93 L209.30,771.62 L209.80,772.28 L210.30,772.92 L210.80,773.55 L211.30,774.15 L211.80,774.73 L212.30,775.30 L212.80,775.85 L213.30,776.38 L213.80,776.89 L214.30,777.39 L214.80,777.87 L215.30,778.33 L215.80,778.78 L216.30,779.20 L216.80,779.62 L217.30,780.01 L217.80,780.38 L218.30,780.74 L218.80,781.07 L219.30,781.39 L219.80,781.69 L220.30,781.98 L220.80,782.25 L221.30,782.51 L221.80,782.76 L222.30,782.99 L222.80,783.20 L223.30,783.41 L223.80,783.60 L224.30,783.77 L224.80,783.93 L225.30,784.09 L225.80,784.23 L226.30,784.37 L226.80,784.49 L227.30,784.61 L227.80,784.72 L228.30,784.81 L228.80,784.90 L229.30,784.97 L229.80,785.03 L230.30,785.08 L230.80,785.12 L231.30,785.14 L231.80,785.16 L232.30,785.17 L232.80,785.17 L233.30,785.17 L233.80,785.16 L234.30,785.14 L234.80,785.11 L235.30,785.08 L235.80,785.04 L236.30,784.99 L236.80,784.93 L237.30,784.86 L237.80,784.78 L238.30,784.70 L238.80,784.62 L239.30,784.53 L239.80,784.44 L240.30,784.35 L240.80,784.25 L241.30,784.15 L241.80,784.05 L242.30,783.95 L242.80,783.84 L243.30,783.73 L243.80,783.61 L244.30,783.49 L244.80,783.36 L245.30,783.23 L245.80,783.09 L246.30,782.94 L246.80,782.79 L247.30,782.64 L247.80,782.48 L248.30,782.33 L248.80,782.17 L249.30,782.00 L249.80,781.84 L250.30,781.67 L250.80,781.51 L251.30,781.34 L251.80,781.17 L252.30,781.00 L252.80,780.83 L253.30,780.66 L253.80,780.48 L254.30,780.31 L254.80,780.14 L255.30,779.97 L255.80,779.79 L256.30,779.62 L256.80,779.45 L257.30,779.28 L257.80,779.11 L258.30,778.94 L258.80,778.77 L259.30,778.60 L259.80,778.43 L260.30,778.26 L260.80,778.10 L261.30,777.94 L261.80,777.78 L262.30,777.62 L262.80,777.46 L263.30,777.30 L263.80,777.15 L264.30,776.99 L264.80,776.84 L265.30,776.68 L265.80,776.53 L266.30,776.37 L266.80,776.22 L267.30,776.07 L267.80,775.92 L268.30,775.77 L268.80,775.62 L269.30,775.48 L269.80,775.34 L270.30,775.20 L270.80,775.07 L271.30,774.95 L271.80,774.83 L272.30,774.73 L272.80,774.62 L273.30,774.52 L273.80,774.43 L274.30,774.34 L274.80,774.25 L275.30,774.17 L275.80,774.09 L276.30,774.00 L276.80,773.92 L277.30,773.84 L277.80,773.76 L278.30,773.68 L278.80,773.60 L279.30,773.52 L279.80,773.44 L280.30,773.36 L280.80,773.28 L281.30,773.21 L281.80,773.13 L282.30,773.07 L282.80,773.01 L283.30,772.96 L283.80,772.92 L284.30,772.88 L284.80,772.86 L285.30,772.84 L285.80,772.84 L286.30,772.84 L286.80,772.84 L287.30,772.86 L287.80,772.87 L288.30,772.89 L288.80,772.91 L289.30,772.94 L289.80,772.96 L290.30,772.98 L290.80,773.01 L291.30,773.03 L291.80,773.06 L292.30,773.09 L292.80,773.13 L293.30,773.16 L293.80,773.21 L294.30,773.26 L294.80,773.31 L295.30,773.38 L295.80,773.45 L296.30,773.52 L296.80,773.61 L297.30,773.69 L297.80,773.79 L298.30,773.88 L298.80,773.98 L299.30,774.08 L299.80,774.18 L300.30,774.28 L300.80,774.38 L301.30,774.48 L301.80,774.59 L302.30,774.69 L302.80,774.79 L303.30,774.90 L303.80,775.00 L304.30,775.11 L304.80,775.22 L305.30,775.33 L305.80,775.44 L306.30,775.56 L306.80,775.67 L307.30,775.79 L307.80,775.91 L308.30,776.04 L308.80,776.16 L309.30,776.29 L309.80,776.41 L310.30,776.54 L310.80,776.66 L311.30,776.79 L311.80,776.91 L312.30,777.04 L312.80,777.17 L313.30,777.29 L313.80,777.42 L314.30,777.55 L314.80,777.67 L315.30,777.80 L315.80,777.93 L316.30,778.06 L316.80,778.19 L317.30,778.32 L317.80,778.45 L318.30,778.57 L318.80,778.70 L319.30,778.83 L319.80,778.96 L320.30,779.09 L320.80,779.22 L321.30,779.34 L321.80,779.46 L322.30,779.57 L322.80,779.67 L323.30,779.76 L323.80,779.85 L324.30,779.92" fill="none" stroke="#d41c24" stroke-width="2.4" stroke-linejoin="round" />
<line x1="104.5" y1="843.0" x2="104.5" y2="619.0" stroke="#000" stroke-width="2.0" />
<line x1="103.5" y1="842.0" x2="325.3" y2="842.0" stroke="#000" stroke-width="2.0" />
<line x1="98.5" y1="842.0" x2="104.5" y2="842.0" stroke="#000" stroke-width="2.0" />
<text x="95.5" y="848.4" font-family="Liberation Sans, sans-serif" font-weight="bold" font-size="18.0" fill="#000" stroke="#000" stroke-width="0.3" text-anchor="end" >0</text>
<line x1="98.5" y1="778.9" x2="104.5" y2="778.9" stroke="#000" stroke-width="2.0" />
<text x="95.5" y="785.2" font-family="Liberation Sans, sans-serif" font-weight="bold" font-size="18.0" fill="#000" stroke="#000" stroke-width="0.3" text-anchor="end" >1000</text>
<line x1="98.5" y1="715.7" x2="104.5" y2="715.7" stroke="#000" stroke-width="2.0" />
<text x="95.5" y="722.1" font-family="Liberation Sans, sans-serif" font-weight="bold" font-size="18.0" fill="#000" stroke="#000" stroke-width="0.3" text-anchor="end" >2000</text>
<line x1="98.5" y1="652.5" x2="104.5" y2="652.5" stroke="#000" stroke-width="2.0" />
<text x="95.5" y="658.9" font-family="Liberation Sans, sans-serif" font-weight="bold" font-size="18.0" fill="#000" stroke="#000" stroke-width="0.3" text-anchor="end" >3000</text>
<line x1="104.3" y1="842.0" x2="104.3" y2="848.0" stroke="#000" stroke-width="2.0" />
<text x="104.3" y="868.8" font-family="Liberation Sans, sans-serif" font-weight="bold" font-size="18.0" fill="#000" stroke="#000" stroke-width="0.3" text-anchor="middle" >610</text>
<line x1="177.8" y1="842.0" x2="177.8" y2="848.0" stroke="#000" stroke-width="2.0" />
<text x="177.8" y="868.8" font-family="Liberation Sans, sans-serif" font-weight="bold" font-size="18.0" fill="#000" stroke="#000" stroke-width="0.3" text-anchor="middle" >635</text>
<line x1="251.4" y1="842.0" x2="251.4" y2="848.0" stroke="#000" stroke-width="2.0" />
<text x="251.4" y="868.8" font-family="Liberation Sans, sans-serif" font-weight="bold" font-size="18.0" fill="#000" stroke="#000" stroke-width="0.3" text-anchor="middle" >660</text>
<line x1="324.9" y1="842.0" x2="324.9" y2="848.0" stroke="#000" stroke-width="2.0" />
<text x="324.9" y="868.8" font-family="Liberation Sans, sans-serif" font-weight="bold" font-size="18.0" fill="#000" stroke="#000" stroke-width="0.3" text-anchor="middle" >685</text>
<text x="215.0" y="889.7" font-family="Liberation Sans, sans-serif" font-weight="bold" font-size="18.0" fill="#000" stroke="#000" stroke-width="0.3" text-anchor="middle" textLength="147.0" lengthAdjust="spacingAndGlyphs" >Wavelength (nm)</text>
<text x="46.7" y="729.9" font-family="Liberation Sans, sans-serif" font-weight="bold" font-size="18.0" fill="#000" stroke="#000" stroke-width="0.3" text-anchor="middle" textLength="151.6" lengthAdjust="spacingAndGlyphs" transform="rotate(-90 46.7 729.9)" >Intensity (counts)</text>
<line x1="251.5" y1="681.6" x2="273.0" y2="681.6" stroke="#000" stroke-width="2.3" stroke-dasharray="0,6.7" stroke-linecap="round"/>
<line x1="251.8" y1="710.1" x2="275.0" y2="710.1" stroke="#d41c24" stroke-width="2.4" />
<line x1="251.8" y1="738.9" x2="275.0" y2="738.9" stroke="#10109c" stroke-width="2.4" />
<text x="288.6" y="689.4" font-family="Liberation Sans, sans-serif" font-weight="bold" font-size="22.0" fill="#000" stroke="#000" stroke-width="0.3" >0</text>
<text x="288.6" y="717.9" font-family="Liberation Sans, sans-serif" font-weight="bold" font-size="22.0" fill="#000" stroke="#000" stroke-width="0.3" textLength="23.3" lengthAdjust="spacingAndGlyphs" >60</text>
<text x="289.2" y="746.3" font-family="Liberation Sans, sans-serif" font-weight="bold" font-size="22.0" fill="#000" stroke="#000" stroke-width="0.3" textLength="34.6" lengthAdjust="spacingAndGlyphs" >120</text>
<text x="122.9" y="783" font-family="Liberation Sans, sans-serif" font-weight="bold" font-size="21" fill="#111" stroke="#111" stroke-width="0.3">d<tspan font-style="italic">A</tspan></text>
<polygon points="176.0,761.4 161.9,760.6 167.3,762.9 157.3,767.4 159.1,771.4 169.2,766.9 167.3,772.5" fill="#1b2a44"/>
<polygon points="204.1,750.1 218.2,750.9 212.8,748.6 222.8,744.1 221.0,740.1 210.9,744.6 212.8,739.0" fill="#1b2a44"/>
<line x1="664.9" y1="282.2" x2="664.9" y2="58.6" stroke="#000" stroke-width="2.0" />
<line x1="442.0" y1="281.2" x2="665.9" y2="281.2" stroke="#000" stroke-width="2.0" />
<line x1="664.9" y1="281.2" x2="670.9" y2="281.2" stroke="#000" stroke-width="2.0" />
<text x="676.1" y="287.6" font-family="Liberation Sans, sans-serif" font-weight="bold" font-size="18.0" fill="#000" stroke="#000" stroke-width="0.3" >0</text>
<line x1="664.9" y1="237.0" x2="670.9" y2="237.0" stroke="#000" stroke-width="2.0" />
<text x="676.1" y="243.4" font-family="Liberation Sans, sans-serif" font-weight="bold" font-size="18.0" fill="#000" stroke="#000" stroke-width="0.3" >1000</text>
<line x1="664.9" y1="192.8" x2="670.9" y2="192.8" stroke="#000" stroke-width="2.0" />
<text x="676.1" y="199.2" font-family="Liberation Sans, sans-serif" font-weight="bold" font-size="18.0" fill="#000" stroke="#000" stroke-width="0.3" >2000</text>
<line x1="664.9" y1="148.6" x2="670.9" y2="148.6" stroke="#000" stroke-width="2.0" />
<text x="676.1" y="155.0" font-family="Liberation Sans, sans-serif" font-weight="bold" font-size="18.0" fill="#000" stroke="#000" stroke-width="0.3" >3000</text>
<line x1="664.9" y1="104.4" x2="670.9" y2="104.4" stroke="#000" stroke-width="2.0" />
<text x="676.1" y="110.8" font-family="Liberation Sans, sans-serif" font-weight="bold" font-size="18.0" fill="#000" stroke="#000" stroke-width="0.3" >4000</text>
<line x1="664.9" y1="60.2" x2="670.9" y2="60.2" stroke="#000" stroke-width="2.0" />
<text x="676.1" y="66.6" font-family="Liberation Sans, sans-serif" font-weight="bold" font-size="18.0" fill="#000" stroke="#000" stroke-width="0.3" >5000</text>
<line x1="443.0" y1="281.2" x2="443.0" y2="287.2" stroke="#000" stroke-width="2.0" />
<text x="443.0" y="307.7" font-family="Liberation Sans, sans-serif" font-weight="bold" font-size="18.0" fill="#000" stroke="#000" stroke-width="0.3" text-anchor="middle" >450</text>
<line x1="512.4" y1="281.2" x2="512.4" y2="287.2" stroke="#000" stroke-width="2.0" />
<text x="512.4" y="307.7" font-family="Liberation Sans, sans-serif" font-weight="bold" font-size="18.0" fill="#000" stroke="#000" stroke-width="0.3" text-anchor="middle" >550</text>
<line x1="581.7" y1="281.2" x2="581.7" y2="287.2" stroke="#000" stroke-width="2.0" />
<text x="581.7" y="307.7" font-family="Liberation Sans, sans-serif" font-weight="bold" font-size="18.0" fill="#000" stroke="#000" stroke-width="0.3" text-anchor="middle" >650</text>
<line x1="651.0" y1="281.2" x2="651.0" y2="287.2" stroke="#000" stroke-width="2.0" />
<text x="651.0" y="307.7" font-family="Liberation Sans, sans-serif" font-weight="bold" font-size="18.0" fill="#000" stroke="#000" stroke-width="0.3" text-anchor="middle" >750</text>
<text x="553.6" y="326.6" font-family="Liberation Sans, sans-serif" font-weight="bold" font-size="18.0" fill="#000" stroke="#000" stroke-width="0.3" text-anchor="middle" textLength="146.0" lengthAdjust="spacingAndGlyphs" >Wavelength (nm)</text>
<text x="722.9" y="170.5" font-family="Liberation Sans, sans-serif" font-weight="bold" font-size="18.0" fill="#000" stroke="#000" stroke-width="0.3" text-anchor="middle" textLength="153.7" lengthAdjust="spacingAndGlyphs" transform="rotate(90 722.9 170.5)" >Intensity (counts)</text>
<line x1="463.4" y1="64.9" x2="487.4" y2="64.9" stroke="#9d9d9d" stroke-width="4.0" />
<line x1="463.4" y1="80.3" x2="487.4" y2="80.3" stroke="#000" stroke-width="2.0" />
<line x1="462.4" y1="95.0" x2="488.4" y2="95.0" stroke="#8e8e8e" stroke-width="2.4" stroke-dasharray="6,4.7"/>
<line x1="462.4" y1="109.9" x2="488.4" y2="109.9" stroke="#000" stroke-width="2.4" stroke-dasharray="6,4.7"/>
<text x="500.0" y="69.8" font-family="Liberation Sans, sans-serif" font-weight="bold" font-size="15.5" fill="#000" stroke="#000" stroke-width="0.3" textLength="96.0" lengthAdjust="spacingAndGlyphs" >air (nanoslit)</text>
<text x="500.0" y="84.4" font-family="Liberation Sans, sans-serif" font-weight="bold" font-size="15.5" fill="#000" stroke="#000" stroke-width="0.3" textLength="123.9" lengthAdjust="spacingAndGlyphs" >water&#160; (nanoslit)</text>
<text x="500.0" y="99.6" font-family="Liberation Sans, sans-serif" font-weight="bold" font-size="15.5" fill="#000" stroke="#000" stroke-width="0.3" textLength="129.8" lengthAdjust="spacingAndGlyphs" >air (no structure)</text>
<text x="500.0" y="115.8" font-family="Liberation Sans, sans-serif" font-weight="bold" font-size="15.5" fill="#000" stroke="#000" stroke-width="0.3" textLength="153.2" lengthAdjust="spacingAndGlyphs" >water (no structure)</text>
<path d="M443.0,279.8 C447.5,279.7 462.5,279.5 470.0,279.2 C477.5,278.9 483.0,278.5 488.0,278.1 C493.0,277.7 496.3,277.3 500.1,277.0 C503.9,276.7 507.4,276.4 510.8,276.1 C514.1,275.8 516.9,275.7 520.2,275.4 C523.6,275.1 527.8,274.8 530.9,274.3 C534.0,273.8 535.4,272.9 539.0,272.5 C542.6,272.1 548.4,271.8 552.4,271.7 C556.4,271.6 559.5,271.9 563.1,272.1 C566.7,272.3 568.4,272.8 574.0,273.0 C579.6,273.2 588.7,273.3 597.0,273.6 C605.3,273.9 615.2,274.5 624.0,275.0 C632.8,275.5 643.3,276.4 650.0,276.8 C656.7,277.2 661.7,277.5 664.0,277.6" fill="none" stroke="#000" stroke-width="2.3" stroke-linejoin="round" stroke-dasharray="4.8,4"/>
<path d="M443.0,279.8 C447.5,279.7 462.5,279.5 470.0,279.2 C477.5,278.9 483.0,278.5 488.0,278.1 C493.0,277.7 496.3,277.3 500.1,277.0 C503.9,276.7 507.4,276.4 510.8,276.1 C514.1,275.8 516.9,275.6 520.2,275.4 C523.6,275.1 527.3,274.6 530.9,274.6 C534.5,274.6 538.1,275.1 541.7,275.2 C545.3,275.3 548.8,275.4 552.4,275.4 C556.0,275.4 559.5,275.2 563.1,275.0 C566.7,274.8 568.4,274.3 574.0,274.2 C579.6,274.1 588.7,274.3 597.0,274.6 C605.3,274.9 615.2,275.3 624.0,275.8 C632.8,276.3 643.3,277.0 650.0,277.4 C656.7,277.8 661.7,278.1 664.0,278.2" fill="none" stroke="#8e8e8e" stroke-width="2.3" stroke-linejoin="round" stroke-dasharray="4.8,4"/>
<path d="M443.0,279.8 C446.5,279.6 458.6,279.1 464.1,278.8 C469.6,278.5 472.4,278.1 476.0,277.8 C479.6,277.5 482.3,278.4 485.4,277.1 C488.4,275.8 491.3,272.4 494.3,270.0 C497.3,267.6 500.2,265.0 503.2,262.9 C506.2,260.8 508.5,259.9 512.1,257.5 C515.7,255.1 521.0,250.3 524.6,248.6 C528.2,246.9 531.0,247.5 533.6,247.1 C536.2,246.7 537.5,246.7 540.0,245.9 C542.5,245.2 546.1,243.4 548.5,242.6 C550.9,241.8 552.7,240.8 554.5,241.0 C556.3,241.2 558.1,241.7 559.5,243.6 C560.9,245.5 561.7,249.8 563.1,252.7 C564.5,255.5 566.4,257.9 568.1,260.7 C569.8,263.5 571.4,268.9 573.1,269.7 C574.8,270.5 576.2,268.9 578.1,265.7 C580.0,262.5 582.2,256.4 584.2,250.6 C586.2,244.8 587.9,238.3 590.2,230.6 C592.5,222.9 595.5,212.1 598.2,204.4 C600.9,196.7 603.6,190.3 606.3,184.3 C609.0,178.3 612.1,171.9 614.3,168.3 C616.5,164.7 617.3,163.7 619.3,162.6 C621.3,161.5 624.4,162.2 626.4,161.8 C628.4,161.4 629.7,161.4 631.4,160.2 C633.1,159.0 635.1,153.2 636.4,154.6 C637.7,155.9 638.4,161.3 639.4,168.3 C640.4,175.3 641.2,186.0 642.4,196.4 C643.6,206.8 645.0,221.6 646.4,230.6 C647.8,239.6 648.8,245.4 650.5,250.6 C652.2,255.8 654.3,258.8 656.5,261.7 C658.7,264.6 662.3,266.7 663.5,267.7" fill="none" stroke="#000" stroke-width="2.0" stroke-linejoin="round" />
<path d="M443.0,279.8 C447.5,279.8 464.5,279.9 470.0,279.8 C475.5,279.8 474.3,279.7 476.0,279.5 C477.7,279.3 478.4,279.2 480.0,278.5 C481.6,277.8 483.3,277.4 485.4,275.4 C487.5,273.4 490.4,269.1 492.5,266.4 C494.6,263.7 496.1,262.3 497.9,259.3 C499.7,256.3 501.4,252.5 503.2,248.6 C505.0,244.7 506.8,240.6 508.6,236.1 C510.4,231.6 512.1,226.6 513.9,221.8 C515.7,217.0 517.5,212.0 519.3,207.5 C521.1,203.0 522.8,198.3 524.6,195.0 C526.4,191.7 528.2,190.3 530.0,187.9 C531.8,185.5 533.7,183.4 535.4,180.7 C537.1,178.0 537.8,175.6 540.0,171.8 C542.2,168.1 545.8,162.8 548.5,158.2 C551.2,153.6 553.8,148.2 556.5,144.2 C559.2,140.2 562.4,136.6 564.6,134.1 C566.9,131.6 568.4,130.3 570.0,129.0 C571.6,127.7 572.1,125.9 574.1,126.1 C576.1,126.3 579.4,128.6 582.1,130.1 C584.8,131.6 587.5,133.1 590.2,135.1 C592.9,137.1 595.5,139.1 598.2,142.1 C600.9,145.1 603.6,150.0 606.3,153.2 C609.0,156.4 612.0,158.3 614.3,161.2 C616.6,164.0 618.3,166.8 620.3,170.3 C622.3,173.8 624.4,178.3 626.4,182.3 C628.4,186.3 630.7,190.7 632.4,194.4 C634.1,198.1 635.2,199.7 636.4,204.4 C637.6,209.1 638.4,216.1 639.4,222.5 C640.4,228.9 641.2,236.9 642.4,242.6 C643.6,248.3 644.7,252.8 646.4,256.7 C648.1,260.6 650.5,263.5 652.5,265.7 C654.5,267.9 656.7,268.9 658.5,269.7 C660.3,270.5 662.7,270.5 663.5,270.7" fill="none" stroke="#9d9d9d" stroke-width="4.0" stroke-linejoin="round" />
<line x1="665.8" y1="565.8" x2="665.8" y2="342.7" stroke="#000" stroke-width="2.0" />
<line x1="444.0" y1="564.8" x2="666.8" y2="564.8" stroke="#000" stroke-width="2.0" />
<line x1="665.8" y1="564.8" x2="671.8" y2="564.8" stroke="#000" stroke-width="2.0" />
<text x="677.0" y="571.2" font-family="Liberation Sans, sans-serif" font-weight="bold" font-size="18.0" fill="#000" stroke="#000" stroke-width="0.3" >0</text>
<line x1="665.8" y1="527.9" x2="671.8" y2="527.9" stroke="#000" stroke-width="2.0" />
<text x="677.0" y="534.3" font-family="Liberation Sans, sans-serif" font-weight="bold" font-size="18.0" fill="#000" stroke="#000" stroke-width="0.3" >2</text>
<line x1="665.8" y1="491.1" x2="671.8" y2="491.1" stroke="#000" stroke-width="2.0" />
<text x="677.0" y="497.5" font-family="Liberation Sans, sans-serif" font-weight="bold" font-size="18.0" fill="#000" stroke="#000" stroke-width="0.3" >4</text>
<line x1="665.8" y1="454.2" x2="671.8" y2="454.2" stroke="#000" stroke-width="2.0" />
<text x="677.0" y="460.6" font-family="Liberation Sans, sans-serif" font-weight="bold" font-size="18.0" fill="#000" stroke="#000" stroke-width="0.3" >6</text>
<line x1="665.8" y1="417.4" x2="671.8" y2="417.4" stroke="#000" stroke-width="2.0" />
<text x="677.0" y="423.8" font-family="Liberation Sans, sans-serif" font-weight="bold" font-size="18.0" fill="#000" stroke="#000" stroke-width="0.3" >8</text>
<line x1="665.8" y1="380.5" x2="671.8" y2="380.5" stroke="#000" stroke-width="2.0" />
<text x="677.0" y="386.9" font-family="Liberation Sans, sans-serif" font-weight="bold" font-size="18.0" fill="#000" stroke="#000" stroke-width="0.3" >10</text>
<line x1="665.8" y1="343.7" x2="671.8" y2="343.7" stroke="#000" stroke-width="2.0" />
<text x="677.0" y="350.1" font-family="Liberation Sans, sans-serif" font-weight="bold" font-size="18.0" fill="#000" stroke="#000" stroke-width="0.3" >12</text>
<line x1="444.8" y1="564.8" x2="444.8" y2="570.8" stroke="#000" stroke-width="2.0" />
<text x="444.8" y="591.3" font-family="Liberation Sans, sans-serif" font-weight="bold" font-size="18.0" fill="#000" stroke="#000" stroke-width="0.3" text-anchor="middle" >450</text>
<line x1="513.9" y1="564.8" x2="513.9" y2="570.8" stroke="#000" stroke-width="2.0" />
<text x="513.9" y="591.3" font-family="Liberation Sans, sans-serif" font-weight="bold" font-size="18.0" fill="#000" stroke="#000" stroke-width="0.3" text-anchor="middle" >550</text>
<line x1="583.0" y1="564.8" x2="583.0" y2="570.8" stroke="#000" stroke-width="2.0" />
<text x="583.0" y="591.3" font-family="Liberation Sans, sans-serif" font-weight="bold" font-size="18.0" fill="#000" stroke="#000" stroke-width="0.3" text-anchor="middle" >650</text>
<line x1="652.1" y1="564.8" x2="652.1" y2="570.8" stroke="#000" stroke-width="2.0" />
<text x="652.1" y="591.3" font-family="Liberation Sans, sans-serif" font-weight="bold" font-size="18.0" fill="#000" stroke="#000" stroke-width="0.3" text-anchor="middle" >750</text>
<text x="555.1" y="608.7" font-family="Liberation Sans, sans-serif" font-weight="bold" font-size="18.0" fill="#000" stroke="#000" stroke-width="0.3" text-anchor="middle" textLength="146.4" lengthAdjust="spacingAndGlyphs" >Wavelength (nm)</text>
<text x="701.2" y="453.2" font-family="Liberation Sans, sans-serif" font-weight="bold" font-size="18.0" fill="#000" stroke="#000" stroke-width="0.3" text-anchor="middle" textLength="152.7" lengthAdjust="spacingAndGlyphs" transform="rotate(90 701.2 453.2)" >Transmission (%)</text>
<line x1="437.9" y1="347.1" x2="461.0" y2="347.1" stroke="#9d9d9d" stroke-width="4.0" />
<line x1="437.9" y1="362.3" x2="461.0" y2="362.3" stroke="#000" stroke-width="2.0" />
<line x1="436.9" y1="379.2" x2="462.0" y2="379.2" stroke="#8e8e8e" stroke-width="2.4" stroke-dasharray="6,4.7"/>
<line x1="436.9" y1="395.5" x2="462.0" y2="395.5" stroke="#000" stroke-width="2.4" stroke-dasharray="6,4.7"/>
<text x="475.0" y="353.0" font-family="Liberation Sans, sans-serif" font-weight="bold" font-size="15.5" fill="#000" stroke="#000" stroke-width="0.3" textLength="96.0" lengthAdjust="spacingAndGlyphs" >air (nanoslit)</text>
<text x="475.0" y="368.5" font-family="Liberation Sans, sans-serif" font-weight="bold" font-size="15.5" fill="#000" stroke="#000" stroke-width="0.3" textLength="123.9" lengthAdjust="spacingAndGlyphs" >water&#160; (nanoslit)</text>
<text x="475.0" y="384.7" font-family="Liberation Sans, sans-serif" font-weight="bold" font-size="15.5" fill="#000" stroke="#000" stroke-width="0.3" textLength="129.8" lengthAdjust="spacingAndGlyphs" >air (no structure)</text>
<text x="475.0" y="400.8" font-family="Liberation Sans, sans-serif" font-weight="bold" font-size="15.5" fill="#000" stroke="#000" stroke-width="0.3" textLength="153.0" lengthAdjust="spacingAndGlyphs" >water (no structure)</text>
<path d="M444.4,548.6 C447.3,549.0 455.8,550.0 461.8,551.1 C467.9,552.2 474.6,554.5 480.7,555.4 C486.8,556.2 491.5,556.0 498.1,556.2 C504.7,556.4 511.8,556.4 520.4,556.6 C529.0,556.8 540.1,557.3 550.0,557.6 C559.9,557.9 568.3,558.2 580.0,558.2 C591.7,558.2 605.8,558.1 620.0,557.8 C634.2,557.5 657.5,556.8 665.0,556.6" fill="none" stroke="#8e8e8e" stroke-width="2.3" stroke-linejoin="round" stroke-dasharray="4.8,4" stroke-dashoffset="4.4"/>
<path d="M444.4,547.4 C446.1,547.6 450.4,548.3 454.5,548.9 C458.6,549.5 464.1,550.5 469.0,551.1 C473.9,551.7 478.8,552.0 483.6,552.5 C488.5,553.0 492.0,553.8 498.1,554.4 C504.2,555.0 511.4,555.8 520.0,556.2 C528.6,556.6 540.9,556.5 550.0,556.8 C559.1,557.1 564.4,558.0 574.6,558.2 C584.8,558.4 600.5,558.1 611.4,557.8 C622.3,557.5 631.1,557.0 640.0,556.5 C648.9,556.0 660.8,554.9 665.0,554.6" fill="none" stroke="#000" stroke-width="2.3" stroke-linejoin="round" stroke-dasharray="4.8,4"/>
<path d="M444.4,540.9 C446.1,540.7 451.6,540.1 454.5,539.5 C457.4,538.9 459.4,538.0 461.8,537.3 C464.2,536.6 466.4,536.0 469.0,535.5 C471.6,535.0 475.3,534.5 477.7,534.1 C480.1,533.7 481.2,533.6 483.6,532.9 C486.0,532.2 489.4,530.9 492.3,530.0 C495.2,529.1 497.9,528.6 501.0,527.8 C504.1,527.0 507.9,526.0 511.1,525.4 C514.3,524.8 517.8,524.4 520.0,524.2 C522.2,524.0 522.6,524.0 524.4,524.2 C526.1,524.4 528.1,524.7 530.5,525.6 C532.9,526.5 535.8,528.8 538.5,529.6 C541.2,530.4 544.6,530.2 546.5,530.2 C548.4,530.2 548.2,529.7 550.0,529.8 C551.8,529.9 555.1,529.2 557.4,530.8 C559.6,532.4 561.5,536.3 563.5,539.4 C565.5,542.5 567.9,546.5 569.7,549.2 C571.6,551.9 572.8,555.0 574.6,555.4 C576.4,555.8 578.2,555.6 580.7,551.7 C583.2,547.8 586.2,540.2 589.3,532.0 C592.4,523.8 595.9,512.3 599.2,502.5 C602.5,492.7 605.7,482.4 609.0,473.0 C612.3,463.6 615.5,455.4 618.8,446.0 C622.1,436.6 626.1,424.3 628.6,416.5 C631.1,408.7 632.2,405.4 633.6,399.3 C635.0,393.2 636.3,383.7 637.2,379.7 C638.1,375.7 638.4,374.8 639.0,375.2 C639.6,375.6 640.2,376.4 640.9,382.1 C641.6,387.8 642.6,398.6 643.4,409.2 C644.2,419.8 645.0,433.7 645.8,446.0 C646.6,458.3 647.3,472.6 648.3,482.9 C649.3,493.1 650.4,500.9 652.0,507.5 C653.6,514.0 655.9,518.6 658.1,522.2 C660.3,525.8 663.9,528.0 665.0,529.1" fill="none" stroke="#000" stroke-width="2.0" stroke-linejoin="round" />
<path d="M444.4,540.9 C445.8,540.8 450.7,540.1 453.1,540.5 C455.5,540.9 457.2,541.8 458.9,543.1 C460.6,544.4 461.6,546.8 463.2,548.2 C464.8,549.7 466.6,551.1 468.3,551.8 C470.0,552.5 471.8,552.8 473.4,552.5 C475.0,552.2 476.2,552.1 477.7,550.3 C479.1,548.5 480.6,544.7 482.1,541.6 C483.6,538.5 485.1,534.9 486.5,531.5 C487.9,528.1 489.4,524.9 490.8,521.3 C492.2,517.7 493.8,513.6 495.2,509.7 C496.6,505.8 498.1,502.0 499.5,498.1 C500.9,494.2 502.4,490.4 503.9,486.5 C505.3,482.6 506.8,478.4 508.2,474.8 C509.6,471.2 511.1,468.1 512.6,464.7 C514.1,461.3 515.6,457.4 517.0,454.5 C518.4,451.6 519.4,449.9 521.0,447.5 C522.6,445.1 524.1,443.1 526.4,440.2 C528.6,437.3 531.8,433.5 534.5,430.1 C537.2,426.8 539.9,423.0 542.5,420.1 C545.1,417.2 547.1,414.8 550.0,413.0 C552.9,411.2 556.5,409.6 559.8,409.2 C563.1,408.8 566.8,409.6 569.7,410.4 C572.6,411.2 574.1,412.3 577.0,414.1 C579.9,415.9 583.2,419.7 586.9,421.4 C590.6,423.1 595.1,423.8 599.2,424.4 C603.3,425.0 608.1,424.8 611.4,425.1 C614.7,425.4 616.3,425.2 618.8,426.4 C621.3,427.6 623.5,430.5 626.2,432.5 C628.9,434.5 632.8,435.9 634.8,438.6 C636.8,441.3 637.5,443.2 638.5,448.5 C639.5,453.8 640.1,462.0 640.9,470.6 C641.7,479.2 642.4,491.9 643.4,500.1 C644.4,508.3 645.5,514.4 647.1,519.7 C648.7,525.0 651.0,529.3 653.2,532.0 C655.5,534.7 658.6,535.0 660.6,535.7 C662.6,536.5 664.3,536.4 665.0,536.5" fill="none" stroke="#9d9d9d" stroke-width="4.0" stroke-linejoin="round" />
<path d="M451.8,773.2 C453.0,771.9 456.2,768.8 459.0,765.6 C461.8,762.4 465.4,758.3 468.5,754.2 C471.6,750.1 474.8,746.0 477.9,740.9 C481.0,735.8 484.2,729.2 487.4,723.8 C490.6,718.4 493.7,713.0 496.9,708.7 C500.1,704.4 503.2,700.9 506.4,698.2 C509.6,695.5 513.6,693.3 515.9,692.5 C518.2,691.7 518.7,692.6 520.0,693.2 C521.3,693.8 522.5,694.7 523.5,696.3 C524.5,697.9 525.2,700.5 526.0,703.0 C526.8,705.5 527.2,706.8 528.1,711.0 C529.0,715.2 530.1,721.8 531.3,728.0 C532.5,734.2 533.9,743.6 535.2,748.5 C536.5,753.4 537.9,754.3 539.1,757.6 C540.3,760.9 541.2,763.7 542.2,768.1 C543.2,772.5 544.3,778.6 545.3,783.8 C546.3,789.0 547.3,794.7 548.4,799.4 C549.5,804.1 550.5,808.8 551.6,811.9 C552.7,815.0 553.7,817.3 554.7,818.1 C555.7,818.9 556.8,818.2 557.8,816.6 C558.8,815.0 559.8,811.7 560.9,808.8 C562.0,805.9 563.0,803.0 564.1,799.4 C565.2,795.8 565.9,792.6 567.2,786.9 C568.5,781.2 570.3,772.3 571.9,765.0 C573.5,757.7 575.0,750.9 576.6,743.1 C578.2,735.3 579.9,726.2 581.3,718.1 C582.7,710.0 584.6,698.6 585.2,694.7 L599,623.6 L659.2,623.6 L661.2,677 L663.5,733 L666,765 L669,786.5 L672.4,797 L672.5,842 L451.8,842 Z" fill="#d3d3d3" stroke="none"/>
<path d="M451.8,773.2 C453.0,771.9 456.2,768.8 459.0,765.6 C461.8,762.4 465.4,758.3 468.5,754.2 C471.6,750.1 474.8,746.0 477.9,740.9 C481.0,735.8 484.2,729.2 487.4,723.8 C490.6,718.4 493.7,713.0 496.9,708.7 C500.1,704.4 503.2,700.9 506.4,698.2 C509.6,695.5 513.6,693.3 515.9,692.5 C518.2,691.7 518.7,692.6 520.0,693.2 C521.3,693.8 522.5,694.7 523.5,696.3 C524.5,697.9 525.2,700.5 526.0,703.0 C526.8,705.5 527.2,706.8 528.1,711.0 C529.0,715.2 530.1,721.8 531.3,728.0 C532.5,734.2 533.9,743.6 535.2,748.5 C536.5,753.4 537.9,754.3 539.1,757.6 C540.3,760.9 541.2,763.7 542.2,768.1 C543.2,772.5 544.3,778.6 545.3,783.8 C546.3,789.0 547.3,794.7 548.4,799.4 C549.5,804.1 550.5,808.8 551.6,811.9 C552.7,815.0 553.7,817.3 554.7,818.1 C555.7,818.9 556.8,818.2 557.8,816.6 C558.8,815.0 559.8,811.7 560.9,808.8 C562.0,805.9 563.0,803.0 564.1,799.4 C565.2,795.8 565.9,792.6 567.2,786.9 C568.5,781.2 570.3,772.3 571.9,765.0 C573.5,757.7 575.0,750.9 576.6,743.1 C578.2,735.3 579.9,726.2 581.3,718.1 C582.7,710.0 584.6,698.6 585.2,694.7 L599,623.6 L659.2,623.6 L661.2,677 L663.5,733 L666,765 L669,786.5 L672.4,797" fill="none" stroke="#000" stroke-width="1.3" stroke-linejoin="round" stroke-dasharray="3,2.2"/>
<path d="M451.8,749.4 C453.0,747.4 456.2,742.3 459.0,737.1 C461.8,731.9 465.4,724.1 468.5,718.1 C471.6,712.1 474.8,707.1 477.9,701.1 C481.0,695.1 484.2,688.1 487.4,682.1 C490.6,676.1 494.0,669.9 496.9,665.0 C499.8,660.1 502.0,656.2 504.5,652.7 C507.0,649.2 509.6,646.0 512.1,644.1 C514.6,642.2 517.5,641.6 519.7,641.3 C521.9,641.0 523.5,640.9 525.4,642.3 C527.3,643.7 529.2,646.3 531.1,649.8 C533.0,653.3 535.1,657.4 536.8,663.1 C538.5,668.8 540.0,676.5 541.4,684.0 C542.8,691.5 543.9,700.5 545.3,708.0 C546.7,715.5 548.6,723.2 550.0,729.1 C551.4,735.0 552.6,737.9 553.9,743.1 C555.2,748.3 556.5,754.0 557.8,760.3 C559.1,766.5 560.5,774.6 561.7,780.6 C562.9,786.6 563.9,793.0 564.8,796.3 C565.7,799.6 566.0,800.2 566.9,800.2 C567.8,800.2 569.2,799.0 570.3,796.3 C571.4,793.6 572.1,789.3 573.4,783.8 C574.7,778.3 576.6,770.7 578.1,763.4 C579.6,756.1 581.0,748.1 582.3,740.0 C583.6,731.9 584.9,722.5 586.0,715.0 C587.1,707.5 588.5,698.3 589.0,695.0 L595.2,621 L662,621 L664.1,677 L667.3,733 L669.5,762 L672.4,784" fill="none" stroke="#10109c" stroke-width="2.3" stroke-linejoin="round" />
<path d="M451.8,759.9 C453.0,758.0 456.2,752.9 459.0,748.5 C461.8,744.1 465.4,738.4 468.5,733.3 C471.6,728.2 474.8,723.5 477.9,718.1 C481.0,712.7 484.2,706.8 487.4,701.1 C490.6,695.4 493.7,689.1 496.9,684.0 C500.1,678.9 503.2,674.0 506.4,670.7 C509.6,667.4 513.0,664.9 515.9,664.1 C518.8,663.3 521.3,664.3 523.5,666.0 C525.7,667.7 527.4,670.5 529.2,674.5 C531.0,678.5 532.8,684.8 534.4,690.0 C536.0,695.2 537.5,699.6 539.1,705.6 C540.7,711.6 542.2,719.1 543.8,725.9 C545.3,732.7 546.8,740.0 548.4,746.3 C550.0,752.5 551.5,757.9 553.1,763.4 C554.7,768.9 556.2,774.1 557.8,779.1 C559.4,784.1 561.3,790.0 562.5,793.1 C563.7,796.2 564.0,797.5 564.8,797.8 C565.6,798.1 566.3,797.0 567.2,794.7 C568.1,792.4 569.0,789.0 570.3,783.8 C571.6,778.6 573.4,770.4 575.0,763.4 C576.6,756.4 578.1,749.4 579.7,741.6 C581.3,733.8 583.0,724.7 584.4,716.6 C585.8,708.5 587.6,697.0 588.3,693.1 L597.2,622 L662.4,622 L664.4,677 L667.6,733 L669.8,763 L672.4,788" fill="none" stroke="#d41c24" stroke-width="2.3" stroke-linejoin="round" />
<line x1="672.5" y1="843.0" x2="672.5" y2="619.2" stroke="#000" stroke-width="2.0" />
<line x1="451.0" y1="842.0" x2="673.5" y2="842.0" stroke="#000" stroke-width="2.0" />
<line x1="672.5" y1="842.0" x2="678.5" y2="842.0" stroke="#000" stroke-width="2.0" />
<text x="683.7" y="848.4" font-family="Liberation Sans, sans-serif" font-weight="bold" font-size="18.0" fill="#000" stroke="#000" stroke-width="0.3" >0</text>
<line x1="672.5" y1="786.5" x2="678.5" y2="786.5" stroke="#000" stroke-width="2.0" />
<text x="683.7" y="792.9" font-family="Liberation Sans, sans-serif" font-weight="bold" font-size="18.0" fill="#000" stroke="#000" stroke-width="0.3" >1000</text>
<line x1="672.5" y1="731.1" x2="678.5" y2="731.1" stroke="#000" stroke-width="2.0" />
<text x="683.7" y="737.5" font-family="Liberation Sans, sans-serif" font-weight="bold" font-size="18.0" fill="#000" stroke="#000" stroke-width="0.3" >2000</text>
<line x1="672.5" y1="675.6" x2="678.5" y2="675.6" stroke="#000" stroke-width="2.0" />
<text x="683.7" y="682.0" font-family="Liberation Sans, sans-serif" font-weight="bold" font-size="18.0" fill="#000" stroke="#000" stroke-width="0.3" >3000</text>
<line x1="672.5" y1="620.2" x2="678.5" y2="620.2" stroke="#000" stroke-width="2.0" />
<text x="683.7" y="626.6" font-family="Liberation Sans, sans-serif" font-weight="bold" font-size="18.0" fill="#000" stroke="#000" stroke-width="0.3" >4000</text>
<line x1="451.8" y1="842.0" x2="451.8" y2="848.0" stroke="#000" stroke-width="2.0" />
<text x="451.8" y="868.5" font-family="Liberation Sans, sans-serif" font-weight="bold" font-size="18.0" fill="#000" stroke="#000" stroke-width="0.3" text-anchor="middle" >550</text>
<line x1="506.9" y1="842.0" x2="506.9" y2="848.0" stroke="#000" stroke-width="2.0" />
<text x="506.9" y="868.5" font-family="Liberation Sans, sans-serif" font-weight="bold" font-size="18.0" fill="#000" stroke="#000" stroke-width="0.3" text-anchor="middle" >600</text>
<line x1="562.0" y1="842.0" x2="562.0" y2="848.0" stroke="#000" stroke-width="2.0" />
<text x="562.0" y="868.5" font-family="Liberation Sans, sans-serif" font-weight="bold" font-size="18.0" fill="#000" stroke="#000" stroke-width="0.3" text-anchor="middle" >650</text>
<line x1="617.2" y1="842.0" x2="617.2" y2="848.0" stroke="#000" stroke-width="2.0" />
<text x="617.2" y="868.5" font-family="Liberation Sans, sans-serif" font-weight="bold" font-size="18.0" fill="#000" stroke="#000" stroke-width="0.3" text-anchor="middle" >700</text>
<line x1="672.3" y1="842.0" x2="672.3" y2="848.0" stroke="#000" stroke-width="2.0" />
<text x="672.3" y="868.5" font-family="Liberation Sans, sans-serif" font-weight="bold" font-size="18.0" fill="#000" stroke="#000" stroke-width="0.3" text-anchor="middle" >750</text>
<text x="562.0" y="889.5" font-family="Liberation Sans, sans-serif" font-weight="bold" font-size="18.0" fill="#000" stroke="#000" stroke-width="0.3" text-anchor="middle" textLength="148.6" lengthAdjust="spacingAndGlyphs" >Wavelength (nm)</text>
<text x="730.6" y="730.6" font-family="Liberation Sans, sans-serif" font-weight="bold" font-size="18.0" fill="#000" stroke="#000" stroke-width="0.3" text-anchor="middle" textLength="153.8" lengthAdjust="spacingAndGlyphs" transform="rotate(90 730.6 730.6)" >Intensity (counts)</text>
<line x1="590.0" y1="702.2" x2="614.5" y2="702.2" stroke="#000" stroke-width="1.3" stroke-dasharray="3,2.2"/>
<line x1="590.0" y1="724.5" x2="614.5" y2="724.5" stroke="#d41c24" stroke-width="2.4" />
<line x1="591.0" y1="749.6" x2="614.5" y2="749.6" stroke="#10109c" stroke-width="2.4" />
<text x="627.2" y="710.2" font-family="Liberation Sans, sans-serif" font-weight="bold" font-size="22.0" fill="#000" stroke="#000" stroke-width="0.3" >0</text>
<text x="627.2" y="732.6" font-family="Liberation Sans, sans-serif" font-weight="bold" font-size="22.0" fill="#000" stroke="#000" stroke-width="0.3" textLength="23.6" lengthAdjust="spacingAndGlyphs" >60</text>
<text x="628.4" y="757.9" font-family="Liberation Sans, sans-serif" font-weight="bold" font-size="22.0" fill="#000" stroke="#000" stroke-width="0.3" textLength="34.6" lengthAdjust="spacingAndGlyphs" >120</text>
<text x="459.2" y="803.8" font-family="Liberation Sans, sans-serif" font-weight="bold" font-size="17.6" fill="#0b960f" stroke="#0b960f" textLength="70.6" lengthAdjust="spacing" stroke-width="0.5">dip shift</text>
<polygon points="552.6,820.6 540.0,814.1 543.0,818.5 535.9,818.5 535.9,822.7 543.0,822.7 540.0,827.1" fill="#0b960f"/>
<polygon points="571.7,820.6 584.3,814.1 581.3,818.5 588.4,818.5 588.4,822.7 581.3,822.7 584.3,827.1" fill="#0b960f"/>
<line x1="555.2" y1="817.5" x2="555.2" y2="829.8" stroke="#0b960f" stroke-width="2.5" />
<line x1="569.6" y1="806.9" x2="569.6" y2="830.5" stroke="#0b960f" stroke-width="2.6" />
</svg>
</body></html>
